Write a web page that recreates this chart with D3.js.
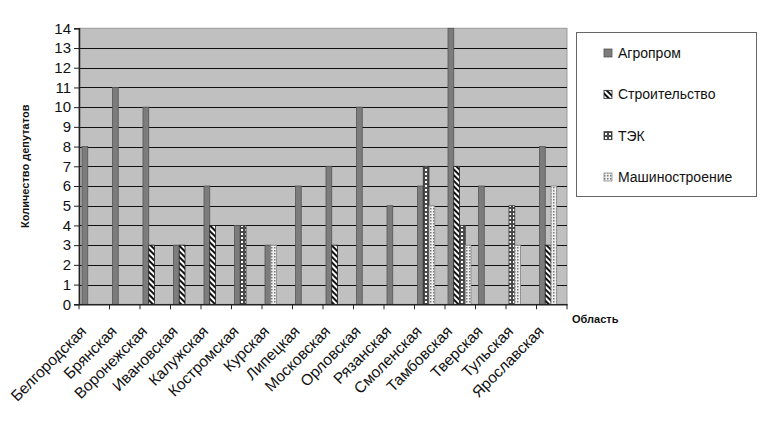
<!DOCTYPE html>
<html><head><meta charset="utf-8">
<script src="https://cdn.jsdelivr.net/npm/d3@7"></script>
<style>
html,body{margin:0;padding:0;background:#fff;}
text{font-family:Arial,"Liberation Sans",sans-serif;}
</style></head>
<body><svg id="c" width="772" height="425"></svg>
<script>
const categories = ["Белгородская","Брянская","Воронежская","Ивановская","Калужская","Костромская","Курская","Липецкая","Московская","Орловская","Рязанская","Смоленская","Тамбовская","Тверская","Тульская","Ярославская"];
const seriesNames = ["Агропром","Строительство","ТЭК","Машиностроение"];
const agroprom      = [8,11,10,3,6,4,3,6,7,10,5,6,14,6,0,8];
const stroitelstvo  = [0,0,3,3,4,0,0,0,3,0,0,0,7,0,0,3];
const tek           = [0,0,0,0,0,4,0,0,0,0,0,7,4,0,5,0];
const mashinostr    = [0,0,0,0,0,0,3,0,0,0,0,5,3,0,3,6];
const yTicks = d3.range(0,15);
const yTitle = "Количество депутатов";
const xTitle = "Область";

const seriesValues = [agroprom, stroitelstvo, tek, mashinostr];
const svg = d3.select("#c");
const L=79, R=567, T=28.3, B=304.3;

// patterns
const defs = svg.append("defs");
let p = defs.append("pattern").attr("id","pStroi").attr("patternUnits","userSpaceOnUse").attr("width",4).attr("height",4).attr("patternTransform","rotate(-45)");
p.append("rect").attr("width",4).attr("height",4).attr("fill","#fff");
p.append("rect").attr("width",2).attr("height",4).attr("fill","#111");
p = defs.append("pattern").attr("id","pTek").attr("patternUnits","userSpaceOnUse").attr("width",4).attr("height",4);
p.append("rect").attr("width",4).attr("height",4).attr("fill","#4a4a4a");
p.append("rect").attr("x",1).attr("y",1).attr("width",2).attr("height",2).attr("fill","#fff");
p = defs.append("pattern").attr("id","pMash").attr("patternUnits","userSpaceOnUse").attr("width",3).attr("height",3);
p.append("rect").attr("width",3).attr("height",3).attr("fill","#eeeeee");
p.append("rect").attr("x",1).attr("y",1).attr("width",1.5).attr("height",1.5).attr("fill","#7a7a7a");
const fills = ["#7c7c7c","url(#pStroi)","url(#pTek)","url(#pMash)"];
const strokes = ["#555","#222","#333","#888"];

const x0 = d3.scaleBand().domain(categories).range([L,R]).padding(0);
const x1 = d3.scaleBand().domain([0,1,2,3]).range([3, 26]).padding(0);
const y = d3.scaleLinear().domain([0,14]).range([B,T]);

// plot area
svg.append("rect").attr("x",L).attr("y",T).attr("width",R-L).attr("height",B-T).attr("fill","#c0c0c0").attr("stroke","#9a9a9a").attr("stroke-width",1);
// gridlines
svg.append("g").selectAll("line").data(yTicks.filter(v=>v>0&&v<14)).join("line")
  .attr("x1",L).attr("x2",R).attr("y1",d=>Math.round(y(d))+0.5).attr("y2",d=>Math.round(y(d))+0.5)
  .attr("stroke","#111").attr("stroke-width",1.2);

// bars (zero values leave no slot)
categories.forEach((c,i)=>{
  let slot=0;
  seriesValues.forEach((vals,s)=>{
    const v = vals[i];
    if(!v) return;
    svg.append("rect")
      .attr("x", x0(c)+x1(slot)).attr("width", x1.bandwidth())
      .attr("y", y(v)).attr("height", y(0)-y(v))
      .attr("fill", fills[s]).attr("stroke", strokes[s]).attr("stroke-width",0.8);
    slot++;
  });
});

// y axis
const ya = svg.append("g").attr("transform",`translate(${L},0)`)
  .call(d3.axisLeft(y).tickValues(yTicks).tickSize(5).tickPadding(3).tickFormat(d3.format("d")));
ya.select(".domain").attr("stroke","#222").attr("stroke-width",1.5);
ya.selectAll(".tick line").attr("stroke","#222");
ya.selectAll("text").attr("font-size",15).attr("fill","#111").attr("font-family","Arial, 'Liberation Sans', sans-serif");

// x axis
const xa = svg.append("g").attr("transform",`translate(0,${B})`)
  .call(d3.axisBottom(x0).tickSize(0).tickFormat(""));
xa.select(".domain").attr("stroke","#222").attr("stroke-width",1.5);
svg.append("g").selectAll("line").data(categories.concat(["__end"])).join("line")
  .attr("x1",(d,i)=>i<categories.length?x0(d):R).attr("x2",(d,i)=>i<categories.length?x0(d):R)
  .attr("y1",B).attr("y2",B+5).attr("stroke","#222");
svg.append("g").selectAll("text").data(categories).join("text")
  .attr("transform",d=>`translate(${x0(d)+x0.bandwidth()/2-7},${B+28}) rotate(-45)`)
  .attr("text-anchor","end").attr("font-size",15.5).attr("fill","#111").text(d=>d);

// axis titles
svg.append("text").attr("transform",`translate(29,${(T+B)/2}) rotate(-90)`).attr("text-anchor","middle")
  .attr("font-size",11).attr("font-weight","bold").attr("fill","#111").text(yTitle);
svg.append("text").attr("x",572).attr("y",323).attr("font-size",11).attr("font-weight","bold").attr("fill","#111").text(xTitle);

// legend
const lg = svg.append("g");
lg.append("rect").attr("x",576.5).attr("y",32.5).attr("width",180).attr("height",164).attr("fill","#fff").attr("stroke","#666");
const ly = d3.scalePoint().domain(seriesNames).range([53,177]);
seriesNames.forEach((n,s)=>{
  lg.append("rect").attr("x",604).attr("y",ly(n)-4).attr("width",8).attr("height",8).attr("fill",fills[s]).attr("stroke",strokes[s]).attr("stroke-width",0.8);
  lg.append("text").attr("x",618).attr("y",ly(n)+5).attr("font-size",14).attr("fill","#111").text(n);
});
</script></body></html>
